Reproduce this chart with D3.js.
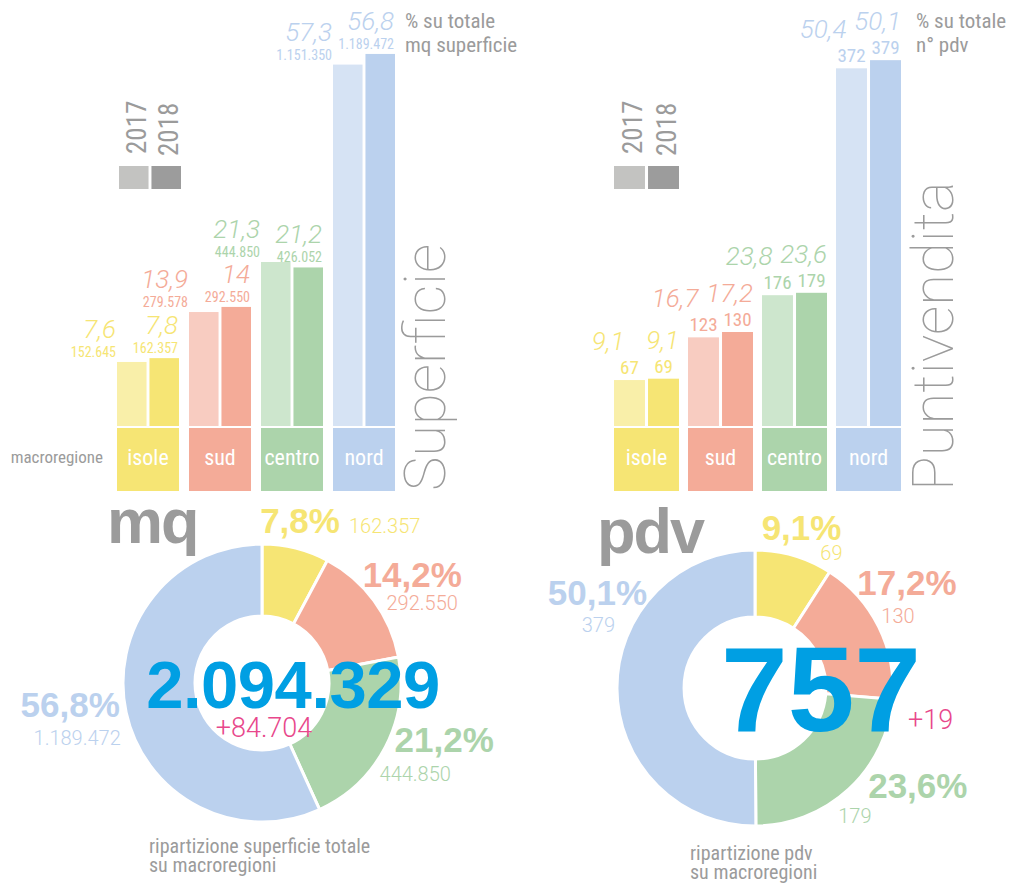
<!DOCTYPE html>
<html lang="it">
<head>
<meta charset="utf-8">
<title>Superficie e punti vendita per macroregione</title>
<script src="https://d3js.org/d3.v7.min.js"></script>
<style>
  body { margin: 0; background: #fff; }
  text { font-family: "Liberation Sans Narrow", "Roboto Condensed", "Liberation Sans", sans-serif; }
  .light { font-family: Roboto, "Liberation Sans", sans-serif; font-weight: 300; }
  .thin { font-family: Roboto, "Liberation Sans", sans-serif; font-weight: 100; }
  .bold { font-family: "Liberation Sans", Arial, sans-serif; font-weight: bold; }
</style>
</head>
<body>
<div id="chart"></div>
<script>
// ---- data ----
const regions = ["isole", "sud", "centro", "nord"];
const years = ["2017", "2018"];

const mq2017 = [152645, 279578, 444850, 1151350];
const mq2018 = [162357, 292550, 426052, 1189472];
const mqPct2017 = [7.6, 13.9, 21.3, 57.3];
const mqPct2018 = [7.8, 14, 21.2, 56.8];

const pdv2017 = [67, 123, 176, 372];
const pdv2018 = [69, 130, 179, 379];
const pdvPct2017 = [9.1, 16.7, 23.8, 50.4];
const pdvPct2018 = [9.1, 17.2, 23.6, 50.1];

const mqShare = [7.8, 14.2, 21.2, 56.8];
const mqDonutValues = [162357, 292550, 444850, 1189472];
const pdvShare = [9.1, 17.2, 23.6, 50.1];
const pdvDonutValues = [69, 130, 179, 379];

const mqTotal = 2094329, mqDelta = 84704;
const pdvTotal = 757, pdvDelta = 19;

// ---- style ----
const colors2018 = ["#f6e574", "#f4ab98", "#acd4ab", "#bbd1ee"];
const colors2017 = ["#f9efa9", "#f8ccc1", "#cde6cd", "#d6e3f4"];
const grey = "#9b9b9b";
const blue = "#009fe3";
const pink = "#e8478b";

const itLocale = d3.formatLocale({decimal: ",", thousands: ".", grouping: [3], currency: ["", "€"]});
const fmtInt = itLocale.format(",d");
const fmtPct = itLocale.format(",.1~f");
const fmtShare = itLocale.format(",.1f");

const svg = d3.select("#chart").append("svg")
    .attr("width", 1014)
    .attr("height", 887);

svg.append("rect").attr("width", 1014).attr("height", 887).attr("fill", "#fff");

// ---- bar panels ----
function barPanel(cfg) {
    const g = svg.append("g");
    const x = d3.scaleBand().domain(regions).range(cfg.xRange).paddingInner(cfg.pad);
    const xi = d3.scaleBand().domain(years).range([0, x.bandwidth()]).paddingInner(0.09);
    const y = d3.scaleLinear().domain(cfg.yDomain).range(cfg.yRange);

    const rows = [];
    regions.forEach((r, i) => years.forEach((yr, j) => {
        rows.push({r: r, i: i, yr: yr, j: j, v: cfg.values[j][i], p: cfg.pcts[j][i]});
    }));

    g.selectAll("rect.bar")
        .data(rows)
        .join("rect")
        .attr("class", "bar")
        .attr("x", d => x(d.r) + xi(d.yr))
        .attr("y", d => y(d.v))
        .attr("width", xi.bandwidth())
        .attr("height", d => y(0) - y(d.v))
        .attr("fill", d => d.j ? colors2018[d.i] : colors2017[d.i]);

    // percent labels
    g.selectAll("text.pct")
        .data(rows)
        .join("text")
        .attr("class", "light")
        .attr("font-style", "italic")
        .attr("font-size", 26)
        .attr("text-anchor", "end")
        .attr("fill", d => colors2018[d.i])
        .attr("x", d => cfg.pctX(x(d.r) + xi(d.yr), xi.bandwidth(), d.j))
        .attr("y", d => y(d.v) - cfg.pctDy)
        .text(d => fmtPct(d.p));

    // value labels
    g.selectAll("text.val")
        .data(rows)
        .join("text")
        .attr("font-size", cfg.valSize)
        .attr("text-anchor", cfg.valAnchor)
        .attr("fill", d => colors2018[d.i])
        .attr("x", d => cfg.valX(x(d.r) + xi(d.yr), xi.bandwidth(), d.j))
        .attr("y", d => y(d.v) - cfg.valDy)
        .text(d => fmtInt(d.v));

    // category boxes
    const box = g.selectAll("g.cat")
        .data(regions)
        .join("g")
        .attr("transform", d => `translate(${x(d)},${y(0) + 2})`);
    box.append("rect")
        .attr("width", x.bandwidth())
        .attr("height", 63)
        .attr("fill", (d, i) => colors2018[i]);
    box.append("text")
        .attr("x", x.bandwidth() / 2)
        .attr("y", 37)
        .attr("text-anchor", "middle")
        .attr("font-size", 22)
        .attr("fill", "#fff")
        .text(d => d);

    // legend
    const leg = g.selectAll("g.leg")
        .data(years)
        .join("g")
        .attr("transform", d => `translate(${x(regions[0]) + xi(d) + cfg.legDx},0)`);
    leg.append("rect")
        .attr("y", 166)
        .attr("width", xi.bandwidth())
        .attr("height", 23)
        .attr("fill", (d, j) => j ? "#9c9c9c" : "#c3c3c1");
    leg.append("text")
        .attr("transform", (d, j) => `translate(${xi.bandwidth() - 3},${154 + j * 2}) rotate(-90)`)
        .attr("font-size", 27)
        .attr("fill", grey)
        .text(d => d);

    // side title
    g.append("text")
        .attr("class", "thin")
        .attr("transform", `translate(${cfg.titleX},${y(0) + 65}) rotate(-90)`)
        .attr("font-size", 58)
        .attr("fill", grey)
        .text(cfg.title);

    // unit note
    const note = g.append("text")
        .attr("font-size", 21)
        .attr("fill", grey);
    cfg.note.forEach((line, k) => {
        note.append("tspan")
            .attr("x", cfg.noteX)
            .attr("y", 28 + k * 24)
            .text(line);
    });
    return {x: x, y: y};
}

const left = barPanel({
    xRange: [117, 395], pad: 0.139,
    yDomain: [0, 150000, 300000, 450000, 1200000],
    yRange: [426, 363, 304, 260.5, 51],
    values: [mq2017, mq2018], pcts: [mqPct2017, mqPct2018],
    pctX: (bx, bw, j) => j ? bx + bw - 1 : bx - 1, pctDy: 24,
    valX: (bx, bw, j) => j ? bx + bw - 1 : bx - 1, valDy: 5,
    valSize: 14, valAnchor: "end",
    legDx: 2,
    title: "Superficie", titleX: 445,
    note: ["% su totale", "mq superficie"], noteX: 405
});

svg.append("text")
    .attr("x", 103)
    .attr("y", 463)
    .attr("text-anchor", "end")
    .attr("font-size", 17)
    .attr("fill", grey)
    .text("macroregione");

const right = barPanel({
    xRange: [614, 901], pad: 0.1216,
    yDomain: [0, 70, 130, 180, 380],
    yRange: [426, 378, 332, 292, 59],
    values: [pdv2017, pdv2018], pcts: [pdvPct2017, pdvPct2018],
    pctX: (bx, bw, j) => j ? bx + bw : bx + bw / 2 - 5, pctDy: 30,
    valX: (bx, bw) => bx + bw / 2, valDy: 6,
    valSize: 19, valAnchor: "middle",
    legDx: 0,
    title: "Puntivendita", titleX: 953,
    note: ["% su totale", "n° pdv"], noteX: 916
});

// ---- donuts ----
function donut(cfg) {
    const g = svg.append("g").attr("transform", `translate(${cfg.cx},${cfg.cy})`);
    const pie = d3.pie().sort(null).value(d => d);
    const arcs = pie(cfg.share);
    const arc = d3.arc().innerRadius(cfg.r0).outerRadius(cfg.r1);
    const labelArc = d3.arc().innerRadius(165).outerRadius(165);

    // labels first so the ring can overlap them
    arcs.forEach((a, i) => {
        const c = labelArc.centroid(a);
        const L = cfg.labels[i];
        g.append("text")
            .attr("class", "bold")
            .attr("font-size", 35)
            .attr("fill", colors2018[i])
            .attr("text-anchor", L.pa)
            .attr("x", c[0] + L.px)
            .attr("y", c[1] + L.py)
            .text(fmtShare(cfg.share[i]) + "%");
        g.append("text")
            .attr("class", "light")
            .attr("font-size", 20)
            .attr("fill", colors2018[i])
            .attr("text-anchor", L.va)
            .attr("x", c[0] + L.vx)
            .attr("y", c[1] + L.vy)
            .text(fmtInt(cfg.values[i]));
    });

    g.selectAll("path")
        .data(arcs)
        .join("path")
        .attr("d", arc)
        .attr("fill", (d, i) => colors2018[i])
        .attr("stroke", "#fff")
        .attr("stroke-width", 3);

    g.append("text")
        .attr("class", "bold")
        .attr("x", cfg.titleDx)
        .attr("y", cfg.titleDy)
        .attr("font-size", 63)
        .attr("letter-spacing", -2)
        .attr("fill", grey)
        .text(cfg.title);

    g.append("text")
        .attr("class", "bold")
        .attr("text-anchor", "middle")
        .attr("x", cfg.totalDx)
        .attr("y", cfg.totalDy)
        .attr("font-size", cfg.totalSize)
        .attr("letter-spacing", cfg.totalSpacing)
        .attr("fill", blue)
        .text(fmtInt(cfg.total));

    g.append("text")
        .attr("class", "light")
        .attr("text-anchor", cfg.deltaAnchor)
        .attr("x", cfg.deltaDx)
        .attr("y", cfg.deltaDy)
        .attr("font-size", 27)
        .attr("fill", pink)
        .text("+" + fmtInt(cfg.delta));

    const cap = g.append("text")
        .attr("font-size", 20)
        .attr("fill", grey);
    cfg.caption.forEach((line, k) => {
        cap.append("tspan")
            .attr("x", cfg.capDx)
            .attr("y", cfg.capDy + k * 19)
            .text(line);
    });
}

donut({
    cx: 262, cy: 683, r0: 67, r1: 139,
    share: mqShare, values: mqDonutValues,
    labels: [
        {pa: "middle", px: -2, py: 10, va: "start", vx: 47, vy: 10},
        {pa: "end", px: 67, py: 2, va: "end", vx: 63, vy: 25},
        {pa: "start", px: -14, py: -7, va: "start", vx: -29, vy: 22},
        {pa: "end", px: 19, py: -1, va: "end", vx: 20, vy: 27}
    ],
    title: "mq", titleDx: -155, titleDy: -140,
    total: mqTotal, totalSize: 67, totalSpacing: -0.5, totalDx: 31, totalDy: 25,
    delta: mqDelta, deltaAnchor: "middle", deltaDx: 2, deltaDy: 54,
    caption: ["ripartizione superficie totale", "su macroregioni"], capDx: -113, capDy: 170
});

donut({
    cx: 755, cy: 688, r0: 71, r1: 138,
    share: pdvShare, values: pdvDonutValues,
    labels: [
        {pa: "middle", px: 0, py: 10, va: "end", vx: 41, vy: 30},
        {pa: "middle", px: 4, py: -20, va: "middle", vx: -5, vy: 8},
        {pa: "start", px: 1, py: -11, va: "start", vx: -29, vy: 14},
        {pa: "end", px: 57, py: -84, va: "end", vx: 25, vy: -57}
    ],
    title: "pdv", titleDx: -158, titleDy: -135,
    total: pdvTotal, totalSize: 120, totalSpacing: 0, totalDx: 66, totalDy: 43,
    delta: pdvDelta, deltaAnchor: "start", deltaDx: 153, deltaDy: 41,
    caption: ["ripartizione pdv", "su macroregioni"], capDx: -65, capDy: 172
});
</script>
</body>
</html>
